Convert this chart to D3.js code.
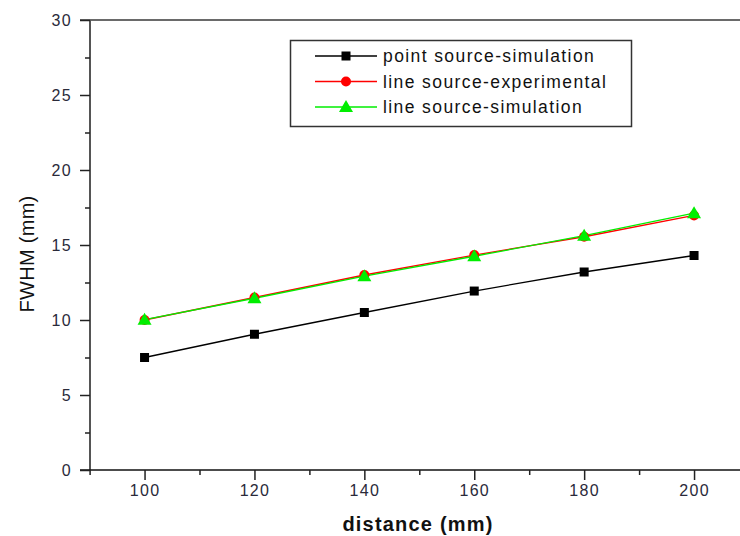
<!DOCTYPE html>
<html>
  <head>
    <title>FWHM vs distance</title>
    <script src="https://d3js.org/d3.v7.min.js"></script>
    <style>
      body { margin: 0; background: #fff; }
      text { font-family: Arial, "Liberation Sans", sans-serif; }
    </style>
  </head>
  <body>
    <div id="chart"></div>
    <script>
      // values
      var distances = [100, 120, 140, 160, 180, 200];
      var pointSim = [7.5, 9.05, 10.5, 11.93, 13.2, 14.3];
      var lineExp = [10.0, 11.5, 13.0, 14.33, 15.55, 16.97];
      var lineSim = [10.02, 11.45, 12.92, 14.25, 15.62, 17.12];
      var seriesNames = ['point source-simulation', 'line source-experimental', 'line source-simulation'];
      var xMajor = [100, 120, 140, 160, 180, 200];
      var xMinor = [90, 110, 130, 150, 170, 190];
      var yMajor = [0, 5, 10, 15, 20, 25, 30];
      var yMinor = [2.5, 7.5, 12.5, 17.5, 22.5, 27.5];

      var width = 740, height = 536;
      var x = d3.scaleLinear().domain([90, 210]).range([89.6, 749]);
      var y = d3.scaleLinear().domain([0, 30]).range([470, 20]);

      var svg = d3.select('#chart').append('svg')
        .attr('width', width)
        .attr('height', height);

      var series = [
        { name: seriesNames[0], values: pointSim, color: '#000000', shape: 'square' },
        { name: seriesNames[1], values: lineExp, color: '#ff0000', shape: 'circle' },
        { name: seriesNames[2], values: lineSim, color: '#00ee00', shape: 'triangle' }
      ];

      // frame lines
      svg.append('line').attr('x1', 80).attr('x2', width).attr('y1', y(30)).attr('y2', y(30))
        .attr('stroke', '#6a6a6a').attr('stroke-width', 2);
      svg.append('line').attr('x1', 90).attr('x2', 90).attr('y1', y(30)).attr('y2', y(0))
        .attr('stroke', '#555').attr('stroke-width', 2);
      svg.append('line').attr('x1', 80).attr('x2', width).attr('y1', y(0)).attr('y2', y(0))
        .attr('stroke', '#111').attr('stroke-width', 1.5);

      // y axis
      var yAxis = svg.append('g').attr('transform', 'translate(90,0)')
        .call(d3.axisLeft(y).tickValues(yMajor).tickSize(10).tickPadding(8).tickFormat(d3.format('d')));
      svg.append('g').attr('transform', 'translate(90,0)')
        .call(d3.axisLeft(y).tickValues(yMinor).tickSize(5).tickFormat(''))
        .select('.domain').remove();
      yAxis.select('.domain').remove();

      // x axis
      var xAxis = svg.append('g').attr('transform', 'translate(0,' + y(0) + ')')
        .call(d3.axisBottom(x).tickValues(xMajor).tickSize(10).tickPadding(5));
      svg.append('g').attr('transform', 'translate(0,' + y(0) + ')')
        .call(d3.axisBottom(x).tickValues(xMinor).tickSize(5).tickFormat(''))
        .select('.domain').remove();
      xAxis.select('.domain').remove();

      svg.selectAll('.tick line').attr('stroke', '#222').attr('stroke-width', 1.5);
      svg.selectAll('.tick text')
        .style('font-size', '16px')
        .style('letter-spacing', '1.3px')
        .attr('fill', '#2a2a3a');

      // axis titles
      svg.append('text')
        .attr('x', 418).attr('y', 531)
        .attr('text-anchor', 'middle')
        .style('font-size', '20px')
        .style('font-weight', 'bold')
        .style('letter-spacing', '1.2px')
        .attr('fill', '#111')
        .text('distance (mm)');

      svg.append('text')
        .attr('transform', 'translate(34,254) rotate(-90)')
        .attr('text-anchor', 'middle')
        .style('font-size', '20px')
        .style('letter-spacing', '0.3px')
        .attr('fill', '#111')
        .text('FWHM (mm)');

      // lines
      var line = d3.line()
        .x(function (d, i) { return x(distances[i]); })
        .y(function (d) { return y(d); });

      series.forEach(function (s) {
        svg.append('path')
          .datum(s.values)
          .attr('d', line)
          .attr('fill', 'none')
          .attr('stroke', s.color)
          .attr('stroke-width', 1.3);
      });

      function drawMarker(g, shape, color, cx, cy) {
        if (shape === 'square') {
          g.append('rect').attr('x', cx - 4.5).attr('y', cy - 4.5).attr('width', 9).attr('height', 9)
            .attr('fill', color);
        } else if (shape === 'circle') {
          g.append('circle').attr('cx', cx).attr('cy', cy).attr('r', 5).attr('fill', color);
        } else {
          g.append('path')
            .attr('d', 'M' + cx + ',' + (cy - 7) + 'L' + (cx + 7) + ',' + (cy + 5) + 'L' + (cx - 7) + ',' + (cy + 5) + 'Z')
            .attr('fill', color);
        }
      }

      series.forEach(function (s) {
        var g = svg.append('g');
        s.values.forEach(function (v, i) {
          drawMarker(g, s.shape, s.color, x(distances[i]), y(v));
        });
      });

      // legend
      var legend = svg.append('g');
      legend.append('rect')
        .attr('x', 290.5).attr('y', 40.5).attr('width', 341).attr('height', 86)
        .attr('fill', '#fff').attr('stroke', '#333').attr('stroke-width', 1.5);
      series.forEach(function (s, i) {
        var ly = 56 + i * 25.5;
        legend.append('line')
          .attr('x1', 315).attr('x2', 377).attr('y1', ly).attr('y2', ly)
          .attr('stroke', s.color).attr('stroke-width', 1.3);
        drawMarker(legend, s.shape, s.color, 346, ly);
        legend.append('text')
          .attr('x', 383).attr('y', ly + 6)
          .style('font-size', '17.5px')
          .style('letter-spacing', '1.4px')
          .attr('fill', '#111')
          .text(s.name);
      });
    </script>
  </body>
</html>
